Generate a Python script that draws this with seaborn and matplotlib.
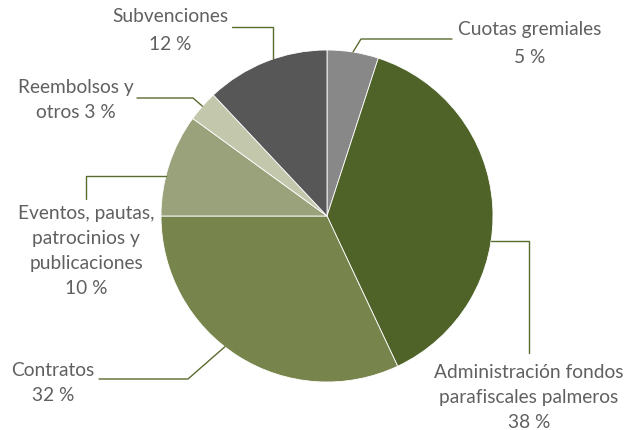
import numpy as np
import matplotlib
matplotlib.use("Agg")
import matplotlib.pyplot as plt
import seaborn as sns

categories = ["Cuotas gremiales", "Administración fondos\nparafiscales palmeros", "Contratos",
              "Eventos, pautas,\npatrocinios y\npublicaciones", "Reembolsos y\notros", "Subvenciones"]
values = [5, 38, 32, 10, 3, 12]
colors = ["#888888", "#4f6228", "#77844b", "#9aa27b", "#c3c8ad", "#575757"]

sns.set_theme(style="white")
plt.rcParams['font.family'] = ['Lato', 'DejaVu Sans']

W, H = 636, 431
fig = plt.figure(figsize=(W / 100, H / 100), dpi=100)
ax = fig.add_axes([0, 0, 1, 1])

cx, cy, R = 327, H - 217, 166
wedges, _ = ax.pie(values, colors=colors, startangle=90, counterclock=False,
                   center=(cx, cy), radius=R, frame=True,
                   wedgeprops=dict(edgecolor="white", linewidth=0.6))
ax.set_xlim(0, W)
ax.set_ylim(0, H)
ax.set_aspect("equal")
ax.axis("off")

line_c = "#5a6b2e"
txt_c = "#606060"
fs = 13.8

def edge_pt(w, ang=None):
    a = np.deg2rad((w.theta1 + w.theta2) / 2 if ang is None else ang)
    return cx + R * np.cos(a), cy + R * np.sin(a)

def Y(y):
    return H - y

labels_txt = [f"{c} {v} %" if i == 4 else f"{c}\n{v} %" for i, (c, v) in enumerate(zip(categories, values))]

def lab(x, y, s, l):
    ax.text(x, y, s, ha="center", va="center", fontsize=fs, color=txt_c, linespacing=l)

# Cuotas gremiales
x0, y0 = edge_pt(wedges[0])
ax.plot([x0, 361, 452], [y0, Y(40), Y(40)], color=line_c, lw=1)
lab(530, Y(43.5), labels_txt[0], 1.72)

# Administración
x0, y0 = edge_pt(wedges[1], ang=-8.7)
ax.plot([x0, 529, 529], [y0, y0, Y(354)], color=line_c, lw=1)
lab(529, Y(397.5), labels_txt[1], 1.55)

# Contratos
x0, y0 = edge_pt(wedges[2], ang=-128)
ax.plot([x0, 188, 99], [y0, Y(380), Y(380)], color=line_c, lw=1)
lab(53, Y(383), labels_txt[2], 1.62)

# Eventos
x0, y0 = edge_pt(wedges[3], ang=166)
ax.plot([x0, 86, 86], [y0, y0, Y(200)], color=line_c, lw=1)
lab(86, Y(251), labels_txt[3], 1.58)

# Reembolsos
x0, y0 = edge_pt(wedges[4])
ax.plot([x0, 193, 137], [y0, Y(99), Y(99)], color=line_c, lw=1)
lab(76, Y(100), labels_txt[4], 1.62)

# Subvenciones
x0, y0 = edge_pt(wedges[5], ang=109)
ax.plot([x0, x0, 232], [y0, Y(28), Y(28)], color=line_c, lw=1)
lab(170, Y(30.5), labels_txt[5], 1.72)

fig.savefig("out.png", dpi=100, facecolor="white")
